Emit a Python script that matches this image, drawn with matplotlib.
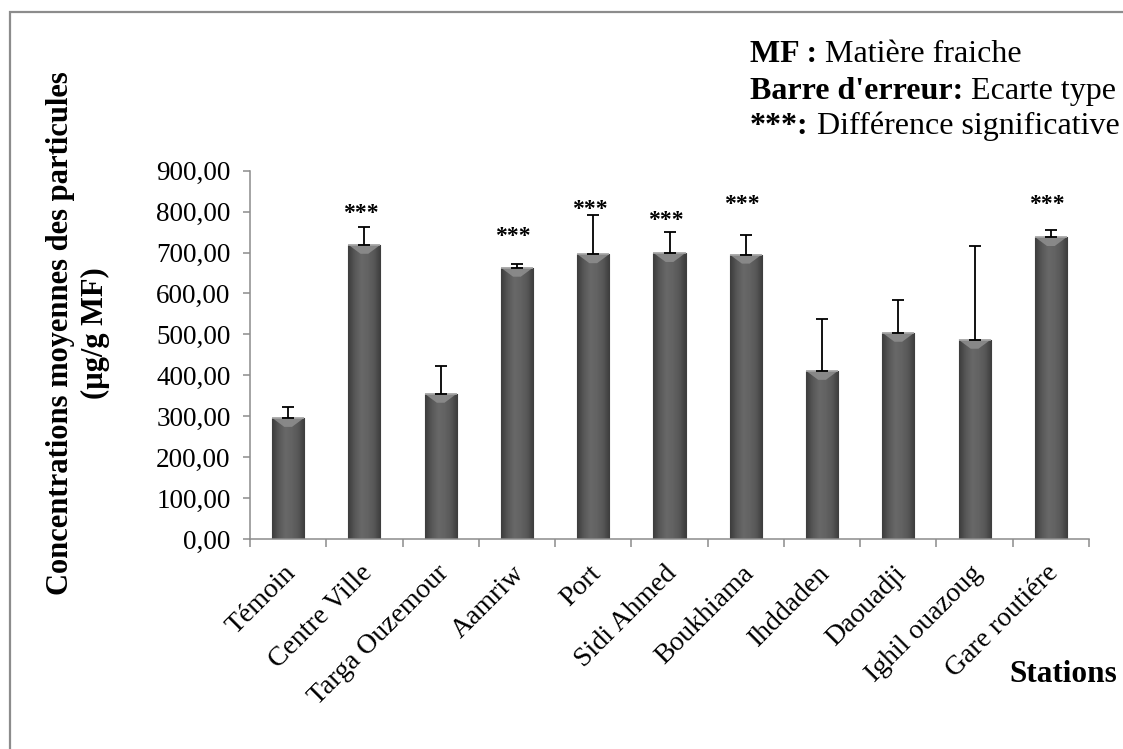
import numpy as np
import matplotlib
matplotlib.use("Agg")
import matplotlib.pyplot as plt
import matplotlib.transforms as mtransforms
from matplotlib.patches import Rectangle, Polygon
from matplotlib.colors import LinearSegmentedColormap

# ---- data -------------------------------------------------------------
stations = ["Témoin", "Centre Ville", "Targa Ouzemour", "Aamriw", "Port",
            "Sidi Ahmed", "Boukhiama", "Ihddaden", "Daouadji",
            "Ighil ouazoug", "Gare routiére"]
means = [296, 719, 355, 663, 696, 699, 695, 411, 504, 487, 738]
std_dev = [27, 44, 68, 10, 96, 52, 48, 127, 80, 228, 18]
significant = [False, True, False, True, True, True, True,
               False, False, False, True]
star_heights = [None, 796, None, 739, 804, 778, 817, None, None, None, 817]
y_ticks = [0, 100, 200, 300, 400, 500, 600, 700, 800, 900]

legend_lines = [("MF :", " Matière fraiche"),
                ("Barre d'erreur:", " Ecarte type"),
                ("***:", " Différence significative")]

# ---- figure -----------------------------------------------------------
W, H = 1123, 749
SERIF = "Liberation Serif"
GRAY = "#8c8c8c"

fig = plt.figure(figsize=(W / 100, H / 100), dpi=100)
fig.patch.set_facecolor("white")

# frame around the whole chart area
fig.add_artist(Rectangle((9.5 / W, -0.1), 1.2, 1 - 12.5 / H + 0.1,
                         transform=fig.transFigure, fill=False,
                         edgecolor=GRAY, linewidth=1.6))

ax = fig.add_axes([250 / W, 1 - 539 / H, 839 / W, 368.3 / H])
x = np.arange(len(stations))
width = 0.42

bars = ax.bar(x, means, width, color="#585858", edgecolor="#3e3e3e",
              linewidth=0.8, zorder=2)

shade = LinearSegmentedColormap.from_list(
    "barshade", ["#3c3c3c", "#575757", "#686868", "#636363", "#575757", "#3c3c3c"])
profile = np.linspace(0, 1, 128).reshape(1, -1)
bevel_depth = 22
for rect in bars:
    x0, w, h = rect.get_x(), rect.get_width(), rect.get_height()
    im = ax.imshow(profile, cmap=shade, extent=[x0, x0 + w, 0, h],
                   aspect="auto", interpolation="bicubic", zorder=2.1)
    im.set_clip_path(rect)
    ax.add_patch(Polygon([(x0, h), (x0 + w, h),
                          (x0 + w * 0.62, h - bevel_depth),
                          (x0 + w * 0.38, h - bevel_depth)],
                         closed=True, facecolor="#8f8f8f", edgecolor="none",
                         alpha=0.85, zorder=2.2))
    ax.plot([x0, x0 + w], [h, h], color="#a5a5a5", lw=1.2, zorder=2.3,
            solid_capstyle="butt")

ax.errorbar(x, means, yerr=[np.zeros(len(means)), std_dev], fmt="none",
            ecolor="black", elinewidth=1.3, capsize=4, capthick=1.3, zorder=3)

for xi, sig, sy in zip(x, significant, star_heights):
    if sig:
        ax.text(xi - 0.05, sy, "***", ha="center", va="center",
                fontsize=17, family=SERIF, fontweight="bold", zorder=4)

ax.set_xlim(-0.5, len(stations) - 0.5)
ax.set_ylim(0, 900)

ax.set_yticks(y_ticks)
ax.set_yticklabels([f"{v:.2f}".replace(".", ",") for v in y_ticks],
                   family=SERIF, fontsize=19.5)
ax.tick_params(axis="y", length=5, width=1.1, color=GRAY, pad=9)

ax.set_xticks(x)
ax.set_xticklabels(stations, rotation=45, ha="right", va="center",
                   rotation_mode="anchor", family=SERIF, fontsize=20)
ax.tick_params(axis="x", which="major", length=0, pad=22)
shift = mtransforms.ScaledTranslation(4 / 100, 0, fig.dpi_scale_trans)
for lab in ax.get_xticklabels():
    lab.set_transform(lab.get_transform() + shift)
ax.set_xticks(np.arange(-0.5, len(stations)), minor=True)
ax.tick_params(axis="x", which="minor", length=6, width=1.1, color=GRAY)

for side in ("top", "right"):
    ax.spines[side].set_visible(False)
for side in ("left", "bottom"):
    ax.spines[side].set_color(GRAY)
    ax.spines[side].set_linewidth(1.1)

# axis titles
fig.text(78 / W, 1 - 333 / H,
         "Concentrations moyennes des particules\n(µg/g MF)",
         rotation=90, ha="center", va="center", multialignment="center",
         family=SERIF, fontweight="bold", fontsize=22, linespacing=1.25)
fig.text(1117 / W, 1 - 682 / H, "Stations", ha="right", va="baseline",
         family=SERIF, fontweight="bold", fontsize=22.5)

# notes block
for (bold_part, plain_part), yb in zip(legend_lines, [62, 99, 134]):
    t = fig.text(750 / W, 1 - yb / H, bold_part, ha="left", va="baseline",
                 family=SERIF, fontweight="bold", fontsize=23)
    ax.annotate(plain_part, xy=(1, 0), xycoords=t, ha="left", va="bottom",
                family=SERIF, fontsize=23, annotation_clip=False)

fig.savefig("out.png", dpi=100, facecolor="white")
